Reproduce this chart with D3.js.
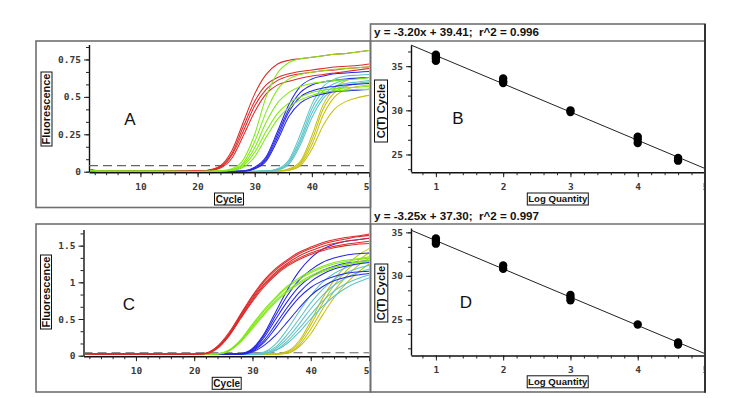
<!DOCTYPE html>
<html><head><meta charset="utf-8">
<script src="https://cdn.jsdelivr.net/npm/d3@7"></script>
<style>body{margin:0;background:#fff}svg{display:block}</style>
</head><body>
<svg id="chart" width="735" height="398"></svg>
<script>
// ---------- DATA ----------
const gridCycles = [1,3,20,22,24,26,28,30,32,34,36,38,40,42,44,46,48,50];

// Panel A amplification curves (Fluorescence at gridCycles)
const redA = [
 [0.01,0.004,0.004,0.012,0.04,0.14,0.33,0.52,0.65,0.72,0.745,0.755,0.765,0.775,0.785,0.79,0.80,0.81],
 [0.008,0.003,0.004,0.01,0.035,0.12,0.30,0.47,0.58,0.63,0.655,0.67,0.68,0.69,0.70,0.705,0.71,0.72],
 [0.008,0.003,0.003,0.009,0.03,0.11,0.27,0.44,0.55,0.61,0.64,0.655,0.665,0.675,0.68,0.69,0.695,0.70],
 [0.007,0.003,0.003,0.008,0.025,0.09,0.24,0.40,0.52,0.58,0.605,0.625,0.64,0.65,0.66,0.67,0.68,0.69]
];
const greenA = [
 [0.012,0.004,0.002,0.003,0.006,0.02,0.08,0.25,0.50,0.66,0.73,0.755,0.765,0.775,0.785,0.79,0.80,0.81],
 [0.01,0.003,0.002,0.003,0.005,0.015,0.06,0.20,0.40,0.55,0.62,0.65,0.665,0.675,0.685,0.69,0.695,0.70],
 [0.01,0.003,0.002,0.003,0.004,0.012,0.05,0.16,0.33,0.46,0.53,0.57,0.59,0.60,0.61,0.615,0.62,0.63],
 [0.009,0.003,0.002,0.002,0.004,0.01,0.04,0.13,0.27,0.39,0.46,0.50,0.53,0.545,0.555,0.56,0.565,0.57],
 [0.009,0.003,0.002,0.002,0.003,0.008,0.03,0.10,0.23,0.35,0.43,0.48,0.51,0.53,0.54,0.545,0.55,0.55]
];
const blueA = [
 [0.015,0.005,0.002,0.002,0.002,0.003,0.005,0.03,0.10,0.27,0.45,0.57,0.62,0.64,0.655,0.66,0.665,0.67],
 [0.012,0.004,0.002,0.002,0.002,0.003,0.005,0.025,0.09,0.25,0.42,0.53,0.58,0.60,0.61,0.62,0.625,0.63],
 [0.01,0.004,0.002,0.002,0.002,0.003,0.004,0.02,0.08,0.23,0.40,0.50,0.54,0.56,0.57,0.58,0.585,0.59],
 [0.01,0.003,0.002,0.002,0.002,0.002,0.004,0.02,0.07,0.21,0.37,0.46,0.50,0.52,0.535,0.54,0.545,0.55]
];
const cyanA = [
 [0.01,0.003,0.002,0.002,0.002,0.002,0.002,0.003,0.005,0.02,0.08,0.25,0.45,0.57,0.62,0.64,0.645,0.65],
 [0.01,0.003,0.002,0.002,0.002,0.002,0.002,0.003,0.004,0.015,0.07,0.22,0.42,0.54,0.59,0.615,0.625,0.63],
 [0.008,0.003,0.002,0.002,0.002,0.002,0.002,0.003,0.004,0.015,0.06,0.20,0.39,0.51,0.57,0.59,0.60,0.61],
 [0.008,0.003,0.002,0.002,0.002,0.002,0.002,0.002,0.004,0.01,0.05,0.18,0.36,0.49,0.55,0.575,0.59,0.60]
];
const yellowA = [
 [0.01,0.003,0.002,0.002,0.002,0.002,0.002,0.002,0.003,0.005,0.02,0.07,0.24,0.45,0.56,0.61,0.625,0.63],
 [0.008,0.003,0.002,0.002,0.002,0.002,0.002,0.002,0.003,0.004,0.015,0.06,0.21,0.42,0.53,0.57,0.59,0.60],
 [0.008,0.003,0.002,0.002,0.002,0.002,0.002,0.002,0.002,0.004,0.01,0.05,0.18,0.38,0.50,0.55,0.57,0.58],
 [0.006,0.002,0.002,0.002,0.002,0.002,0.002,0.002,0.002,0.003,0.01,0.04,0.15,0.31,0.42,0.47,0.495,0.51]
];

// Panel C amplification curves
const redC = [
 [0.03,0.025,0.02,0.035,0.13,0.32,0.57,0.82,1.03,1.19,1.31,1.41,1.48,1.54,1.58,1.61,1.63,1.66],
 [0.03,0.025,0.02,0.03,0.12,0.30,0.55,0.80,1.01,1.17,1.29,1.39,1.46,1.52,1.56,1.59,1.62,1.64],
 [0.03,0.025,0.02,0.03,0.11,0.29,0.54,0.78,0.98,1.14,1.26,1.36,1.43,1.49,1.53,1.56,1.58,1.60],
 [0.03,0.025,0.02,0.03,0.11,0.28,0.52,0.76,0.96,1.12,1.24,1.33,1.40,1.45,1.49,1.52,1.54,1.56],
 [0.03,0.025,0.02,0.028,0.10,0.27,0.51,0.74,0.94,1.10,1.22,1.31,1.38,1.43,1.47,1.50,1.52,1.53]
];
const greenC = [
 [0.03,0.025,0.02,0.02,0.025,0.08,0.22,0.43,0.63,0.80,0.95,1.06,1.15,1.22,1.27,1.30,1.32,1.35],
 [0.03,0.025,0.02,0.02,0.024,0.075,0.21,0.41,0.61,0.78,0.93,1.04,1.13,1.20,1.25,1.28,1.31,1.33],
 [0.03,0.025,0.02,0.02,0.023,0.07,0.20,0.39,0.58,0.75,0.89,1.00,1.09,1.16,1.21,1.25,1.28,1.30],
 [0.03,0.025,0.02,0.02,0.022,0.065,0.19,0.37,0.56,0.73,0.87,0.98,1.07,1.14,1.20,1.24,1.27,1.29]
];
const blueC = [
 [0.03,0.025,0.02,0.02,0.02,0.02,0.03,0.10,0.30,0.60,0.90,1.15,1.33,1.45,1.52,1.56,1.58,1.60],
 [0.03,0.025,0.02,0.02,0.02,0.02,0.025,0.09,0.28,0.55,0.82,1.03,1.17,1.27,1.33,1.37,1.39,1.40],
 [0.03,0.025,0.02,0.02,0.02,0.02,0.025,0.08,0.25,0.50,0.74,0.94,1.07,1.16,1.22,1.26,1.28,1.30],
 [0.03,0.025,0.02,0.02,0.02,0.02,0.022,0.07,0.21,0.43,0.66,0.86,1.01,1.11,1.18,1.22,1.25,1.27],
 [0.03,0.025,0.02,0.02,0.02,0.02,0.02,0.06,0.18,0.38,0.60,0.79,0.93,1.02,1.08,1.12,1.14,1.15],
 [0.03,0.025,0.02,0.02,0.02,0.02,0.02,0.05,0.14,0.28,0.46,0.65,0.82,0.94,1.02,1.07,1.10,1.12]
];
const cyanC = [
 [0.03,0.025,0.02,0.02,0.02,0.02,0.02,0.025,0.05,0.16,0.36,0.60,0.82,1.00,1.12,1.20,1.25,1.28],
 [0.03,0.025,0.02,0.02,0.02,0.02,0.02,0.022,0.04,0.12,0.29,0.50,0.72,0.90,1.04,1.13,1.19,1.23],
 [0.03,0.025,0.02,0.02,0.02,0.02,0.02,0.02,0.03,0.10,0.24,0.43,0.64,0.82,0.96,1.06,1.13,1.18],
 [0.03,0.025,0.02,0.02,0.02,0.02,0.02,0.02,0.03,0.08,0.20,0.37,0.56,0.74,0.88,0.98,1.05,1.10],
 [0.03,0.025,0.02,0.02,0.02,0.02,0.02,0.02,0.025,0.07,0.17,0.32,0.50,0.67,0.81,0.92,1.00,1.06]
];
const yellowC = [
 [0.03,0.025,0.02,0.02,0.02,0.02,0.02,0.02,0.02,0.025,0.06,0.20,0.47,0.78,1.03,1.22,1.36,1.46],
 [0.03,0.025,0.02,0.02,0.02,0.02,0.02,0.02,0.02,0.022,0.05,0.17,0.42,0.71,0.96,1.15,1.29,1.40],
 [0.03,0.025,0.02,0.02,0.02,0.02,0.02,0.02,0.02,0.02,0.04,0.14,0.36,0.63,0.88,1.07,1.22,1.33],
 [0.03,0.025,0.02,0.02,0.02,0.02,0.02,0.02,0.02,0.02,0.03,0.12,0.30,0.55,0.79,0.98,1.13,1.25]
];
const thresholdA = 0.04;
const thresholdC = 0.04;

// Standard curves (Log Quantity vs C(T))
const logQtyB = [1,1,1,1,2,2,2,3,3,4,4,4,4.6,4.6];
const ctB     = [36.3,36.1,35.9,35.6,33.6,33.3,33.1,30.0,29.8,27.0,26.7,26.3,24.6,24.3];
const logQtyD = [1,1,1,2,2,3,3,3,4,4.6,4.6];
const ctD     = [34.3,34.0,33.7,31.2,30.8,27.8,27.5,27.2,24.4,22.35,22.1];
const fitB = {slope:-3.20, intercept:39.41, r2:0.996};
const fitD = {slope:-3.25, intercept:37.30, r2:0.997};
const headerB = "y = -3.20x + 39.41;  r^2 = 0.996";
const headerD = "y = -3.25x + 37.30;  r^2 = 0.997";

// Tick labels
const cycleTicks = [10,20,30,40,50];
const cycleTickLabels = ["10","20","30","40","50"];
const fluorTicksA = [0,0.25,0.5,0.75];
const fluorTickLabelsA = ["0","0.25","0.5","0.75"];
const fluorTicksC = [0,0.5,1,1.5];
const fluorTickLabelsC = ["0","0.5","1","1.5"];
const logTicks = [1,2,3,4,5];
const logTickLabels = ["1","2","3","4","5"];
const ctTicks = [25,30,35];
const ctTickLabels = ["25","30","35"];

// ---------- DRAWING ----------
const svg = d3.select("#chart");
const colors = {red:"#dc2a2a", green:"#80e818", blue:"#2626e6", cyan:"#5cc4c8", yellow:"#c6c010"};
const FRAME = "#6f6f6f";
const defs = svg.append("defs");
function clip(id,x,y,w,h){defs.append("clipPath").attr("id",id).append("rect").attr("x",x).attr("y",y).attr("width",w).attr("height",h);return `url(#${id})`;}

function axisGroup(g, orient, scale, major, labels, minor, pos){
  const mk = orient==="left"? d3.axisLeft : d3.axisBottom;
  const tr = orient==="left"? `translate(${pos},0)` : `translate(0,${pos})`;
  g.append("g").attr("transform",tr)
   .call(mk(scale).tickValues(minor).tickSize(3).tickSizeOuter(0).tickFormat(""))
   .call(a=>{a.select(".domain").attr("stroke","#111").attr("stroke-width",1.4);a.selectAll("line").attr("stroke","#222");});
  const ax = g.append("g").attr("transform",tr)
   .call(mk(scale).tickValues(major).tickSize(5).tickSizeOuter(0).tickPadding(orient==="left"?3:6)
     .tickFormat((d,i)=>labels[i]));
  ax.select(".domain").remove();
  ax.selectAll("line").attr("stroke","#222");
  ax.selectAll("text").attr("font-family","DejaVu Sans Mono, monospace").attr("font-size",9.5)
    .attr("font-weight","bold").attr("fill","#3a3a3a");
}

function boxLabel(g, text, cx, cy, w, h, rot, fs){
  const gg = g.append("g").attr("transform",`translate(${cx},${cy}) rotate(${rot})`);
  const W = rot? h : w, H = rot? w : h;
  gg.append("rect").attr("x",-W/2).attr("y",-H/2).attr("width",W).attr("height",H)
    .attr("fill","#fff").attr("stroke","#111").attr("stroke-width",1);
  gg.append("text").attr("text-anchor","middle").attr("dy","0.36em")
    .attr("font-family","Liberation Sans, Arial, sans-serif").attr("font-weight","bold")
    .attr("font-size",fs).attr("fill","#111").text(text);
}

function panelLetter(g, t, x, y){
  g.append("text").attr("x",x).attr("y",y).attr("text-anchor","middle")
   .attr("font-family","Liberation Sans, Arial, sans-serif").attr("font-size",17).attr("fill","#111").text(t);
}

function ampPanel(cfg){
  const g = svg.append("g").attr("clip-path", clip(cfg.id, cfg.fx, cfg.fy, cfg.fw, cfg.fh));
  const x = d3.scaleLinear([1,50],[cfg.x0,cfg.x1]);
  const y = d3.scaleLinear([0,cfg.ymax],[cfg.y0,cfg.y1]);
  panelLetter(g, cfg.letter, cfg.lx, cfg.ly);
  axisGroup(g,"bottom",x,cycleTicks,cycleTickLabels,d3.range(2,51,2),cfg.y0+0.5);
  axisGroup(g,"left",y,cfg.majorY,cfg.labelsY,d3.range(0,cfg.ymax+0.001,cfg.minorStep),cfg.x0);
  g.append("line").attr("x1",cfg.x0).attr("x2",cfg.x1).attr("y1",y(cfg.thr)).attr("y2",y(cfg.thr))
   .attr("stroke","#666").attr("stroke-width",1.2).attr("stroke-dasharray","9,5");
  const line = d3.line().x(d=>x(d[0])).y(d=>y(d[1])).curve(d3.curveMonotoneX);
  const plotClip = clip(cfg.id+"p", cfg.x0+1, cfg.y1-5, cfg.x1-cfg.x0, cfg.y0-cfg.y1+5);
  const cg = g.append("g").attr("clip-path",plotClip);
  cfg.groups.forEach(([series,col])=>{
    series.forEach(vals=>{
      cg.append("path").datum(gridCycles.map((c,i)=>[c,vals[i]]))
        .attr("d",line).attr("fill","none").attr("stroke",col).attr("stroke-width",1.05);
    });
  });
  boxLabel(g,"Fluorescence",cfg.fl[0],cfg.fl[1],11,74,-90,11);
  boxLabel(g,"Cycle",cfg.cl[0],cfg.cl[1],29,12,0,10);
}

function stdPanel(cfg){
  const g = svg.append("g").attr("clip-path", clip(cfg.id, cfg.fx, cfg.fy, cfg.fw, cfg.fh));
  const x = d3.scaleLinear([0.63,5],[411,705]);
  const y = d3.scaleLinear(cfg.ydom,[cfg.y0,cfg.y1]);
  panelLetter(g, cfg.letter, cfg.lx, cfg.ly);
  axisGroup(g,"bottom",x,logTicks,logTickLabels,d3.range(0.8,5.01,0.2),cfg.y0+0.5);
  const minor = d3.range(25-5/3*Math.floor((25-cfg.ydom[0])/(5/3)), cfg.ydom[1], 5/3);
  axisGroup(g,"left",y,ctTicks,ctTickLabels,minor,411);
  const cg = g.append("g").attr("clip-path", clip(cfg.id+"p",411,cfg.y1-3,295,cfg.y0-cfg.y1+3));
  cg.append("line").attr("x1",x(0.63)).attr("x2",x(5))
    .attr("y1",y(cfg.fit.slope*0.63+cfg.fit.intercept)).attr("y2",y(cfg.fit.slope*5+cfg.fit.intercept))
    .attr("stroke","#222").attr("stroke-width",1);
  cg.selectAll("circle").data(cfg.xs.map((v,i)=>[v,cfg.ys[i]])).join("circle")
    .attr("cx",d=>x(d[0])).attr("cy",d=>y(d[1])).attr("r",4.2).attr("fill","#000");
  boxLabel(g,"C(T) Cycle",cfg.ctl[0],cfg.ctl[1],13,cfg.ctlH,-90,11);
  boxLabel(g,"Log Quantity",cfg.lq[0],cfg.lq[1],61,12,0,9.6);
}

ampPanel({id:"A",fx:36,fy:41,fw:334.5,fh:166.5,x0:89,x1:369,y0:171.7,y1:44.5,ymax:0.85,
  majorY:fluorTicksA,labelsY:fluorTickLabelsA,minorStep:0.25/3,thr:thresholdA,letter:"A",lx:130,ly:125,
  fl:[46.5,109],cl:[229,199],
  groups:[[yellowA,colors.yellow],[cyanA,colors.cyan],[blueA,colors.blue],[redA,colors.red],[greenA,colors.green]]});
ampPanel({id:"C",fx:36,fy:224,fw:334.5,fh:168,x0:83.5,x1:369,y0:355.7,y1:229.5,ymax:1.72,
  majorY:fluorTicksC,labelsY:fluorTickLabelsC,minorStep:1/6,thr:thresholdC,letter:"C",lx:129,ly:310,
  fl:[46,292],cl:[226.7,383.3],
  groups:[[yellowC,colors.yellow],[cyanC,colors.cyan],[blueC,colors.blue],[greenC,colors.green],[redC,colors.red]]});
stdPanel({id:"B",fx:371,fy:41,fw:334,fh:166,ydom:[23.05,37.4],y0:171.7,y1:45,fit:fitB,
  xs:logQtyB,ys:ctB,letter:"B",lx:458,ly:124,ctl:[381,111],ctlH:62,lq:[557.8,199]});
stdPanel({id:"D",fx:371,fy:224,fw:334,fh:168,ydom:[20.9,35.5],y0:355,y1:228,fit:fitD,
  xs:logQtyD,ys:ctD,letter:"D",lx:466,ly:308,ctl:[381.3,293],ctlH:58,lq:[557.7,381.8]});

// headers
[[headerB,36],[headerD,219.5]].forEach(([t,yb])=>{
  svg.append("text").attr("x",374).attr("y",yb).attr("font-family","Liberation Sans, Arial, sans-serif")
    .attr("font-weight","bold").attr("font-size",11.6).attr("fill","#111")
    .style("white-space","pre").text(t);
});

// frames
const fr = svg.append("g").attr("fill","none").attr("stroke",FRAME).attr("stroke-width",1.6);
fr.append("rect").attr("x",36).attr("y",41).attr("width",334.5).attr("height",166.5);
fr.append("rect").attr("x",36).attr("y",224).attr("width",334.5).attr("height",168);
fr.append("rect").attr("x",370.5).attr("y",24).attr("width",334.5).attr("height",368);
fr.append("line").attr("x1",370.5).attr("x2",705).attr("y1",41).attr("y2",41);
fr.append("line").attr("x1",370.5).attr("x2",705).attr("y1",224).attr("y2",224);
svg.append("line").attr("x1",705).attr("x2",705).attr("y1",24).attr("y2",392.8).attr("stroke","#333").attr("stroke-width",2);
</script>
</body></html>
